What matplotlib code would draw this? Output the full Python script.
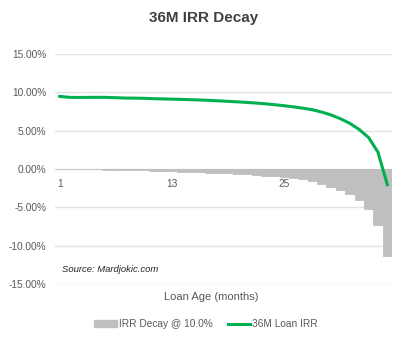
import matplotlib
matplotlib.use("Agg")
import matplotlib.pyplot as plt
from matplotlib.patches import Patch
from matplotlib.lines import Line2D
from matplotlib.ticker import FuncFormatter

plt.rcParams['font.family'] = ['Liberation Sans', 'DejaVu Sans']

# loan age in months
months = list(range(1, 37))
# IRR decay @ 10.0% (percent)
decay = [0.00, -0.01, -0.02, -0.03, -0.05, -0.07, -0.09, -0.12, -0.15, -0.18,
         -0.21, -0.25, -0.29, -0.33, -0.37, -0.42, -0.47, -0.52, -0.58, -0.64,
         -0.70, -0.77, -0.85, -0.93, -1.02, -1.13, -1.30, -1.55, -1.90, -2.30,
         -2.70, -3.20, -4.00, -5.20, -7.35, -11.30]
# 36M loan IRR (percent)
loan_irr = [9.47, 9.35, 9.33, 9.34, 9.35, 9.34, 9.30, 9.25, 9.24, 9.22,
            9.17, 9.14, 9.11, 9.08, 9.04, 9.00, 8.95, 8.89, 8.82, 8.76,
            8.68, 8.60, 8.50, 8.38, 8.25, 8.10, 7.93, 7.73, 7.42, 7.05,
            6.55, 5.95, 5.15, 4.10, 2.20, -2.05]
x_labels = [1, 13, 25]
y_ticks = [-15, -10, -5, 0, 5, 10, 15]

bar_color = '#bfbfbf'
line_color = '#00b050'
text_color = '#595959'

fig = plt.figure(figsize=(4.08, 3.48), dpi=100)
ax = fig.add_axes([55 / 408, 1 - 284 / 348, 337 / 408, 230 / 348])

# thin edge in the same colour hides the seams between touching bars
ax.bar(months, decay, width=1.0, color=bar_color, edgecolor=bar_color, lw=0.6, zorder=2)
ax.plot(months, loan_irr, color=line_color, lw=2.2, zorder=3)

ax.set_xlim(0.5, 36.5)
ax.set_ylim(-15, 15)
ax.set_yticks(y_ticks)
ax.yaxis.set_major_formatter(FuncFormatter(lambda v, p: f"{v:.2f}%"))
ax.grid(axis='y', color='#e3e3e3', lw=1, zorder=0)
ax.set_axisbelow(True)
for s in ax.spines.values():
    s.set_visible(False)

ax.set_xticks(x_labels)
ax.set_xticklabels([str(v) for v in x_labels])
ax.spines['bottom'].set_position(('data', 0))
ax.tick_params(axis='x', length=0, pad=7, labelsize=7.3, labelcolor=text_color)
ax.tick_params(axis='y', length=0, pad=6, labelsize=7.3, labelcolor=text_color)

fig.text(0.5, 1 - 18 / 348, "36M IRR Decay", ha='center', va='center',
         fontsize=11, fontweight='bold', color='#404040')
fig.text(62 / 408, 1 - 270 / 348, "Source: Mardjokic.com", ha='left', va='center',
         fontsize=6.8, style='italic', color='#262626')
fig.text(211 / 408, 1 - 297 / 348, "Loan Age (months)", ha='center', va='center',
         fontsize=8, color=text_color)

handles = [Patch(color=bar_color), Line2D([0], [0], color=line_color, lw=2.2)]
fig.legend(handles, ["IRR Decay @ 10.0%", "36M Loan IRR"], loc='center',
           bbox_to_anchor=(206 / 408, 1 - 324 / 348), ncol=2, frameon=False,
           fontsize=7.3, labelcolor=text_color, handlelength=2.2, handleheight=0.6,
           handletextpad=0.2, columnspacing=1.5)

fig.savefig("out.png", dpi=100)
